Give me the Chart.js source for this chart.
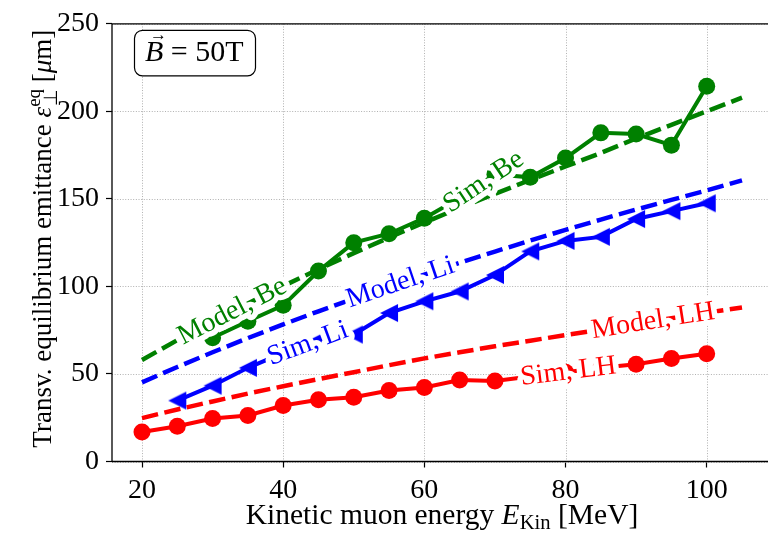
<!DOCTYPE html>
<html>
<head>
<meta charset="utf-8">
<script src="https://cdn.jsdelivr.net/npm/chart.js@4.4.0/dist/chart.umd.min.js"></script>
<style>
  html, body { margin: 0; padding: 0; background: #fff; overflow: hidden; width: 768px; height: 533px; }
  #wrap { position: relative; width: 800px; height: 533px; }
</style>
</head>
<body>
<div id="wrap"><canvas id="c"></canvas></div>
<script>
// Kinetic muon energy grid (MeV)
const energySim   = [20, 25, 30, 35, 40, 45, 50, 55, 60, 65, 70, 75, 80, 85, 90, 95, 100];
const energyModel = [20, 25, 30, 35, 40, 45, 50, 55, 60, 65, 70, 75, 80, 85, 90, 95, 100, 105];

// Simulated transverse equilibrium emittance (µm); Li starts at 25 MeV, Be at 30 MeV
const simLH = [16.9, 20.1, 24.5, 26.3, 32.0, 35.3, 36.7, 40.5, 42.3, 46.5, 46.0, 48.5, 51.0, 53.5, 55.6, 58.8, 61.6];
const simLi = [34.8, 43.3, 53.5, 62.0, 69.5, 72.5, 84.8, 91.5, 97.1, 106.5, 120.0, 126.0, 128.3, 138.5, 143.0, 147.5];
const simBe = [70.7, 80.1, 89.2, 108.8, 125.0, 130.1, 139.0, 150.5, 164.0, 162.3, 173.3, 187.7, 187.0, 180.7, 214.3];

// Model prediction (µm)
const modelLH = [24.8, 29.7, 34.3, 38.8, 43.0, 47.1, 51.0, 55.0, 58.9, 62.4, 65.8, 69.0, 72.2, 75.3, 78.6, 81.8, 85.0, 88.0];
const modelLi = [45.2, 54.0, 62.4, 70.5, 78.3, 85.8, 93.0, 100.0, 106.8, 113.5, 119.9, 126.2, 132.3, 138.2, 143.9, 149.4, 154.8, 160.6];
const modelBe = [58.0, 69.3, 80.0, 90.3, 100.2, 109.8, 119.0, 127.9, 136.5, 144.8, 152.9, 160.8, 168.5, 176.2, 184.5, 192.3, 200.0, 207.8];

const xTicks = [20, 40, 60, 80, 100];
const yTicks = [0, 50, 100, 150, 200, 250];

const GREEN = '#008000', BLUE = '#0000ff', RED = '#ff0000';
const SERIF = "'Liberation Serif', 'Times New Roman', serif";

// pair trailing x values with a (possibly shorter) y series
function pairs(xs, ys) {
  const off = xs.length - ys.length;
  return ys.map((v, i) => ({ x: xs[off + i], y: v }));
}

// left-pointing triangle marker
function leftTriangle(color) {
  const c = document.createElement('canvas');
  c.width = 20; c.height = 20;
  const g = c.getContext('2d');
  g.fillStyle = color;
  g.beginPath();
  g.moveTo(1, 10); g.lineTo(19, 1); g.lineTo(19, 19); g.closePath();
  g.fill();
  return c;
}

function modelSet(data, color) {
  return { data, showLine: true, borderColor: color, borderWidth: 4.5, borderDash: [16.5, 6.5],
           borderCapStyle: 'butt', pointRadius: 0, fill: false, tension: 0 };
}
function simSet(data, color, style) {
  return { data, showLine: true, borderColor: color, borderWidth: 4, backgroundColor: color,
           pointStyle: style, pointRadius: 8.5, pointBorderWidth: 0, pointBackgroundColor: color,
           fill: false, tension: 0 };
}

const datasets = [
  modelSet(pairs(energyModel, modelBe), GREEN),   // 0
  modelSet(pairs(energyModel, modelLi), BLUE),    // 1
  modelSet(pairs(energyModel, modelLH), RED),     // 2
  simSet(pairs(energySim, simBe), GREEN, 'circle'),          // 3
  simSet(pairs(energySim, simLi), BLUE, leftTriangle(BLUE)), // 4
  simSet(pairs(energySim, simLH), RED, 'circle')             // 5
];

// inline curve labels: dataset, text, energy at which the label sits
const inlineLabels = [
  { ds: 0, text: 'Model, Be', at: 32.8, color: GREEN },
  { ds: 1, text: 'Model, Li', at: 56.6, color: BLUE },
  { ds: 2, text: 'Model, LH', at: 92.4, color: RED },
  { ds: 3, text: 'Sim, Be',   at: 68.4, color: GREEN },
  { ds: 4, text: 'Sim, Li',   at: 43.5, color: BLUE },
  { ds: 5, text: 'Sim, LH',   at: 80.4, color: RED }
];

function placeOn(chart, ds, xv) {
  const pts = chart.data.datasets[ds].data;
  let i = 0;
  while (i < pts.length - 2 && pts[i + 1].x < xv) i++;
  const p0 = pts[i], p1 = pts[i + 1];
  const t = (xv - p0.x) / (p1.x - p0.x);
  const yv = p0.y + t * (p1.y - p0.y);
  const X = chart.scales.x, Y = chart.scales.y;
  const ang = Math.atan2(Y.getPixelForValue(p1.y) - Y.getPixelForValue(p0.y),
                         X.getPixelForValue(p1.x) - X.getPixelForValue(p0.x));
  return { px: X.getPixelForValue(xv), py: Y.getPixelForValue(yv), ang };
}

// draw a run of styled text pieces, starting at x or centred on it
function richText(ctx, pieces, x, y, size, centre) {
  const font = (p) => `${p.italic ? 'italic ' : ''}${(size * (p.scale || 1)).toFixed(2)}px ${SERIF}`;
  const widthOf = (p) => { ctx.font = font(p); return ctx.measureText(p.t).width; };
  let total = 0;
  pieces.forEach(p => { if (!p.stack) total += widthOf(p); });
  let cx = centre ? x - total / 2 : x;
  pieces.forEach(p => {
    ctx.font = font(p);
    ctx.fillText(p.t, cx + (p.dx || 0) * size, y + (p.dy || 0) * size);
    if (!p.stack) cx += ctx.measureText(p.t).width;
  });
}

const decor = {
  id: 'decor',
  beforeDatasetsDraw(chart) {
    const { ctx, chartArea: a, scales: { x, y } } = chart;
    ctx.save();
    ctx.strokeStyle = '#b0b0b0';
    ctx.lineWidth = 1;
    ctx.setLineDash([1, 1.65]);
    xTicks.forEach(v => {
      const px = Math.round(x.getPixelForValue(v)) + 0.5;
      ctx.beginPath(); ctx.moveTo(px, a.top); ctx.lineTo(px, a.bottom); ctx.stroke();
    });
    yTicks.forEach(v => {
      const py = Math.round(y.getPixelForValue(v)) + 0.5;
      ctx.beginPath(); ctx.moveTo(a.left, py); ctx.lineTo(a.right, py); ctx.stroke();
    });
    ctx.restore();
  },
  afterDatasetsDraw(chart) {
    const { ctx, chartArea: a } = chart;

    // labels along the curves, with a white halo
    ctx.save();
    ctx.font = `28px ${SERIF}`;
    ctx.textAlign = 'center';
    ctx.textBaseline = 'middle';
    ctx.lineJoin = 'round';
    inlineLabels.forEach(l => {
      const p = placeOn(chart, l.ds, l.at);
      ctx.save();
      ctx.translate(p.px, p.py);
      ctx.rotate(p.ang);
      ctx.strokeStyle = '#fff';
      ctx.lineWidth = 11;
      ctx.strokeText(l.text, 0, 0);
      ctx.fillStyle = l.color;
      ctx.fillText(l.text, 0, 0);
      ctx.restore();
    });
    ctx.restore();

    // frame: top, left, bottom spines
    ctx.save();
    ctx.strokeStyle = '#000';
    ctx.lineWidth = 1.3;
    ctx.beginPath();
    ctx.moveTo(a.left, a.bottom); ctx.lineTo(a.left, a.top); ctx.lineTo(a.right, a.top);
    ctx.moveTo(a.left, a.bottom); ctx.lineTo(a.right, a.bottom);
    ctx.stroke();
    ctx.restore();

    // field annotation box
    ctx.save();
    ctx.beginPath();
    ctx.roundRect(a.left + 22.5, a.top + 6.5, 121, 45.5, 8);
    ctx.fillStyle = '#fff';
    ctx.fill();
    ctx.strokeStyle = '#000';
    ctx.lineWidth = 1.2;
    ctx.stroke();
    ctx.fillStyle = '#000';
    ctx.textBaseline = 'alphabetic';
    ctx.textAlign = 'left';
    const bx = a.left + 33, by = a.top + 37;
    ctx.font = `17px ${SERIF}`;
    ctx.fillText('\u2192', bx + 5, by - 21);
    richText(ctx, [
      { t: 'B', italic: true },
      { t: ' = ' },
      { t: '50T' }
    ], bx, by, 30, false);
    ctx.restore();

    // axis titles
    ctx.save();
    ctx.fillStyle = '#000';
    ctx.textBaseline = 'alphabetic';
    ctx.textAlign = 'left';
    const cxMid = (a.left + a.right) / 2;
    richText(ctx, [
      { t: 'Kinetic muon energy ' },
      { t: 'E', italic: true },
      { t: 'Kin', scale: 0.7, dy: 0.18 },
      { t: ' [MeV]' }
    ], cxMid, 524, 29.5, true);

    ctx.translate(51, (a.top + a.bottom) / 2 - 4);
    ctx.rotate(-Math.PI / 2);
    richText(ctx, [
      { t: 'Transv. equilibrium emittance ' },
      { t: '\u03b5', italic: true },
      { t: '\u22a5', scale: 0.7, dy: 0.22, stack: true, dx: 0.02 },
      { t: 'eq', scale: 0.7, dy: -0.42 },
      { t: ' [' },
      { t: '\u03bc', italic: true },
      { t: 'm]' }
    ], 0, 0, 27, true);
    ctx.restore();
  }
};

new Chart(document.getElementById('c'), {
  type: 'scatter',
  data: { datasets },
  options: {
    responsive: true,
    maintainAspectRatio: false,
    animation: false,
    events: [],
    layout: { padding: { left: 0, right: 28, top: 20, bottom: 0 } },
    plugins: { legend: { display: false }, tooltip: { enabled: false } },
    scales: {
      x: {
        type: 'linear', min: 15.75, max: 109.25,
        afterBuildTicks: s => { s.ticks = xTicks.map(v => ({ value: v })); },
        afterFit: s => { s.height = 71.5; },
        grid: { display: true, drawOnChartArea: false, drawTicks: true, tickLength: 6, tickColor: '#000', tickWidth: 1.2 },
        border: { display: false },
        ticks: { color: '#000', font: { family: SERIF, size: 28 }, padding: 6, maxRotation: 0 }
      },
      y: {
        type: 'linear', min: 0, max: 250,
        afterBuildTicks: s => { s.ticks = yTicks.map(v => ({ value: v })); },
        afterFit: s => { s.width = 112; },
        grid: { display: true, drawOnChartArea: false, drawTicks: true, tickLength: 6, tickColor: '#000', tickWidth: 1.2 },
        border: { display: false },
        ticks: { color: '#000', font: { family: SERIF, size: 28 }, padding: 7 }
      }
    }
  },
  plugins: [decor]
});
</script>
</body>
</html>
